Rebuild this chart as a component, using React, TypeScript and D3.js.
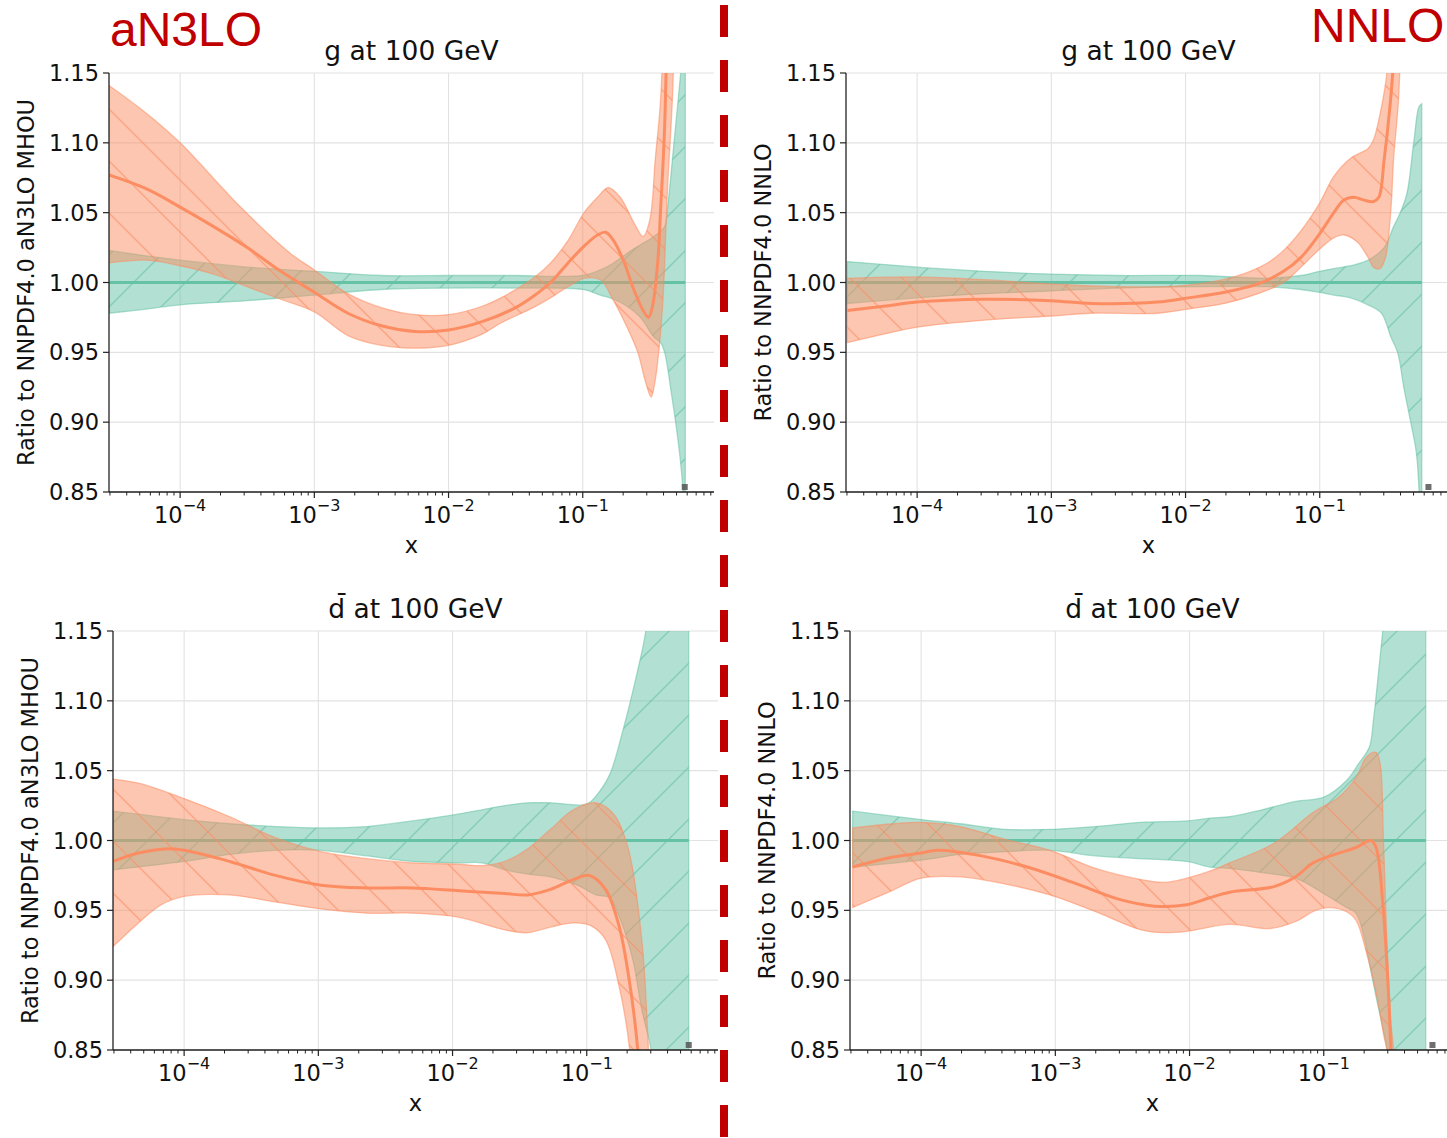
import React from 'react';
import * as d3 from 'd3';

type Pt = [number, number]; // [log10(x), ratio]

// ---------- gluon, aN3LO comparison (reference = NNPDF4.0 aN3LO MHOU) ----------
const gAn3loRefHi: Pt[] = [[-4.53,1.023],[-4.25,1.019],[-4.0,1.016],[-3.5,1.011],[-3.0,1.008],[-2.5,1.005],[-2.0,1.005],[-1.5,1.005],[-1.0,1.005],[-0.87,1.009],[-0.77,1.014],[-0.67,1.021],[-0.57,1.027],[-0.47,1.033],[-0.39,1.040],[-0.37,1.052],[-0.32,1.100],[-0.28,1.140],[-0.255,1.170],[-0.236,1.300]];
const gAn3loRefLo: Pt[] = [[-4.53,0.978],[-4.25,0.981],[-4.0,0.984],[-3.5,0.987],[-3.0,0.991],[-2.5,0.995],[-2.0,0.996],[-1.5,0.996],[-1.0,0.995],[-0.87,0.991],[-0.77,0.988],[-0.67,0.983],[-0.57,0.975],[-0.47,0.961],[-0.42,0.957],[-0.39,0.950],[-0.34,0.921],[-0.29,0.887],[-0.256,0.855],[-0.236,0.800]];
const gAn3loRefMid: Pt[] = [[-4.53,1.0],[-0.236,1.0]];
const gAn3loMid: Pt[] = [[-4.53,1.077],[-4.25,1.067],[-4.0,1.054],[-3.75,1.040],[-3.5,1.025],[-3.25,1.008],[-3.0,0.993],[-2.75,0.978],[-2.5,0.969],[-2.25,0.965],[-2.0,0.966],[-1.75,0.972],[-1.5,0.982],[-1.37,0.990],[-1.24,1.000],[-1.11,1.014],[-0.99,1.026],[-0.89,1.034],[-0.83,1.036],[-0.77,1.030],[-0.69,1.014],[-0.62,0.995],[-0.55,0.980],[-0.51,0.975],[-0.48,0.983],[-0.44,1.016],[-0.42,1.052],[-0.39,1.111],[-0.37,1.200]];
const gAn3loHi: Pt[] = [[-4.53,1.141],[-4.25,1.121],[-4.0,1.100],[-3.55,1.054],[-3.18,1.021],[-3.0,1.009],[-2.75,0.992],[-2.5,0.982],[-2.25,0.977],[-2.0,0.977],[-1.75,0.983],[-1.61,0.989],[-1.37,1.003],[-1.24,1.014],[-1.11,1.030],[-0.99,1.050],[-0.89,1.061],[-0.81,1.068],[-0.72,1.061],[-0.62,1.043],[-0.55,1.033],[-0.50,1.045],[-0.46,1.088],[-0.42,1.131],[-0.38,1.250]];
const gAn3loLo: Pt[] = [[-4.53,1.014],[-4.25,1.016],[-4.0,1.012],[-3.75,1.006],[-3.5,0.997],[-3.25,0.988],[-3.0,0.979],[-2.75,0.962],[-2.5,0.955],[-2.25,0.953],[-2.0,0.955],[-1.75,0.963],[-1.61,0.971],[-1.37,0.982],[-1.24,0.989],[-1.11,0.997],[-0.99,1.003],[-0.87,1.002],[-0.77,0.987],[-0.67,0.968],[-0.59,0.950],[-0.53,0.928],[-0.49,0.918],[-0.46,0.930],[-0.43,0.954],[-0.40,0.992],[-0.37,1.064],[-0.33,1.136],[-0.30,1.250]];

// ---------- gluon, NNLO comparison (reference = NNPDF4.0 NNLO) ----------
const gNnloRefHi: Pt[] = [[-4.52,1.015],[-4.0,1.011],[-3.5,1.008],[-3.0,1.006],[-2.5,1.005],[-1.885,1.005],[-1.39,1.003],[-1.14,1.005],[-1.0,1.008],[-0.895,1.010],[-0.77,1.012],[-0.64,1.016],[-0.52,1.025],[-0.45,1.040],[-0.40,1.050],[-0.35,1.064],[-0.30,1.100],[-0.26,1.126],[-0.24,1.128]];
const gNnloRefLo: Pt[] = [[-4.52,0.985],[-4.0,0.989],[-3.5,0.992],[-3.0,0.994],[-2.5,0.996],[-1.885,0.997],[-1.39,0.997],[-1.14,0.995],[-1.0,0.993],[-0.895,0.991],[-0.77,0.989],[-0.64,0.984],[-0.54,0.978],[-0.47,0.961],[-0.42,0.950],[-0.37,0.923],[-0.32,0.899],[-0.28,0.878],[-0.26,0.851],[-0.24,0.800]];
const gNnloRefMid: Pt[] = [[-4.52,1.0],[-0.24,1.0]];
const gNnloMid: Pt[] = [[-4.52,0.980],[-4.25,0.983],[-4.0,0.986],[-3.5,0.988],[-3.0,0.987],[-2.7,0.985],[-2.21,0.986],[-1.98,0.989],[-1.71,0.993],[-1.46,0.999],[-1.27,1.008],[-1.14,1.018],[-1.0,1.035],[-0.895,1.050],[-0.82,1.059],[-0.745,1.061],[-0.67,1.059],[-0.60,1.058],[-0.56,1.061],[-0.52,1.088],[-0.48,1.123],[-0.45,1.160],[-0.43,1.250]];
const gNnloHi: Pt[] = [[-4.52,1.003],[-4.0,1.004],[-3.5,1.002],[-3.0,0.999],[-2.5,0.997],[-2.0,0.998],[-1.64,1.004],[-1.39,1.014],[-1.27,1.023],[-1.14,1.037],[-1.0,1.057],[-0.895,1.076],[-0.77,1.089],[-0.64,1.096],[-0.60,1.102],[-0.55,1.121],[-0.50,1.150],[-0.45,1.250]];
const gNnloLo: Pt[] = [[-4.52,0.957],[-4.25,0.963],[-4.0,0.968],[-3.5,0.973],[-3.0,0.976],[-2.7,0.978],[-2.21,0.978],[-1.98,0.981],[-1.71,0.985],[-1.46,0.992],[-1.27,1.000],[-1.14,1.011],[-1.0,1.024],[-0.895,1.032],[-0.82,1.034],[-0.72,1.029],[-0.64,1.018],[-0.60,1.011],[-0.55,1.010],[-0.51,1.018],[-0.47,1.052],[-0.45,1.088],[-0.41,1.136],[-0.39,1.250]];

// ---------- dbar, aN3LO comparison ----------
const dbAn3loRefHi: Pt[] = [[-4.53,1.021],[-4.0,1.015],[-3.66,1.012],[-3.32,1.010],[-2.98,1.009],[-2.64,1.010],[-2.30,1.014],[-1.95,1.019],[-1.78,1.022],[-1.61,1.025],[-1.44,1.027],[-1.27,1.027],[-1.0,1.026],[-0.93,1.032],[-0.83,1.047],[-0.73,1.079],[-0.62,1.122],[-0.56,1.150],[-0.45,1.250],[-0.24,1.300]];
const dbAn3loRefLo: Pt[] = [[-4.53,0.979],[-4.0,0.985],[-3.66,0.990],[-3.32,0.993],[-2.98,0.993],[-2.64,0.989],[-2.30,0.985],[-1.95,0.984],[-1.78,0.984],[-1.61,0.979],[-1.44,0.976],[-1.27,0.974],[-1.07,0.968],[-0.93,0.961],[-0.83,0.959],[-0.76,0.946],[-0.66,0.916],[-0.59,0.879],[-0.52,0.850],[-0.45,0.800],[-0.24,0.780]];
const dbAn3loRefMid: Pt[] = [[-4.53,1.0],[-0.24,1.0]];
const dbAn3loMid: Pt[] = [[-4.53,0.985],[-4.34,0.991],[-4.14,0.994],[-4.0,0.993],[-3.66,0.985],[-3.32,0.975],[-2.98,0.968],[-2.64,0.966],[-2.30,0.966],[-1.95,0.964],[-1.61,0.962],[-1.44,0.961],[-1.27,0.965],[-1.10,0.972],[-0.98,0.975],[-0.86,0.965],[-0.76,0.939],[-0.69,0.904],[-0.62,0.850],[-0.57,0.750]];
const dbAn3loHi: Pt[] = [[-4.53,1.044],[-4.34,1.041],[-4.0,1.030],[-3.66,1.017],[-3.32,1.002],[-2.98,0.992],[-2.64,0.987],[-2.30,0.984],[-1.95,0.983],[-1.78,0.982],[-1.61,0.985],[-1.44,0.994],[-1.27,1.008],[-1.10,1.022],[-0.93,1.027],[-0.80,1.019],[-0.69,0.994],[-0.59,0.929],[-0.54,0.850],[-0.50,0.750]];
const dbAn3loLo: Pt[] = [[-4.53,0.924],[-4.34,0.941],[-4.17,0.954],[-4.0,0.960],[-3.66,0.961],[-3.32,0.956],[-2.98,0.951],[-2.64,0.948],[-2.30,0.948],[-1.95,0.945],[-1.61,0.936],[-1.44,0.934],[-1.27,0.938],[-1.10,0.941],[-0.97,0.939],[-0.86,0.929],[-0.76,0.896],[-0.68,0.850],[-0.62,0.750]];

// ---------- dbar, NNLO comparison ----------
const dbNnloRefHi: Pt[] = [[-4.51,1.021],[-4.0,1.015],[-3.71,1.012],[-3.38,1.008],[-3.04,1.008],[-2.70,1.010],[-2.36,1.013],[-2.02,1.014],[-1.85,1.016],[-1.70,1.017],[-1.46,1.022],[-1.21,1.028],[-1.0,1.031],[-0.83,1.043],[-0.74,1.055],[-0.66,1.067],[-0.63,1.086],[-0.59,1.122],[-0.55,1.160],[-0.45,1.250],[-0.24,1.300]];
const dbNnloRefLo: Pt[] = [[-4.51,0.981],[-4.0,0.986],[-3.71,0.990],[-3.38,0.992],[-3.04,0.993],[-2.70,0.989],[-2.36,0.987],[-2.02,0.985],[-1.85,0.981],[-1.70,0.980],[-1.46,0.977],[-1.21,0.973],[-1.0,0.962],[-0.83,0.952],[-0.76,0.948],[-0.70,0.931],[-0.66,0.912],[-0.61,0.888],[-0.56,0.866],[-0.53,0.851],[-0.45,0.780],[-0.24,0.760]];
const dbNnloRefMid: Pt[] = [[-4.51,1.0],[-0.24,1.0]];
const dbNnloMid: Pt[] = [[-4.51,0.981],[-4.22,0.988],[-4.0,0.991],[-3.88,0.993],[-3.55,0.989],[-3.21,0.981],[-2.87,0.970],[-2.53,0.958],[-2.26,0.953],[-2.02,0.954],[-1.85,0.959],[-1.70,0.963],[-1.37,0.967],[-1.21,0.974],[-1.08,0.984],[-0.92,0.990],[-0.76,0.995],[-0.65,1.000],[-0.61,0.995],[-0.56,0.955],[-0.52,0.895],[-0.50,0.850],[-0.47,0.750]];
const dbNnloHi: Pt[] = [[-4.51,1.009],[-4.2,1.012],[-4.0,1.013],[-3.71,1.010],[-3.38,1.001],[-3.04,0.993],[-2.70,0.980],[-2.36,0.972],[-2.19,0.970],[-2.02,0.973],[-1.85,0.978],[-1.70,0.984],[-1.37,0.998],[-1.08,1.020],[-0.89,1.031],[-0.76,1.045],[-0.68,1.060],[-0.61,1.063],[-0.58,1.055],[-0.555,1.000],[-0.53,0.930],[-0.50,0.870],[-0.48,0.850],[-0.46,0.750]];
const dbNnloLo: Pt[] = [[-4.51,0.952],[-4.22,0.964],[-4.0,0.973],[-3.71,0.974],[-3.38,0.969],[-3.04,0.961],[-2.70,0.949],[-2.36,0.936],[-2.19,0.934],[-2.02,0.935],[-1.70,0.940],[-1.40,0.937],[-1.21,0.942],[-1.06,0.950],[-0.96,0.952],[-0.83,0.949],[-0.76,0.943],[-0.68,0.919],[-0.61,0.891],[-0.55,0.859],[-0.53,0.850],[-0.50,0.750]];

// axis ticks
const yTicks = [0.85, 0.9, 0.95, 1.0, 1.05, 1.1, 1.15];
const xMajorExp = [-4, -3, -2, -1];
const xLogDomain: [number, number] = [-4.53, -0.022];

const GREEN = '#66c2a5';
const ORANGE = '#fc8d62';
const RED = '#c00000';
const FONT = '"DejaVu Sans", Verdana, sans-serif';
const LABEL_SIZE = 22.5;

const PLOT_W = 605;
const PLOT_H = 419;

interface Band { hi: Pt[]; lo: Pt[]; mid: Pt[] }
interface PanelSpec {
  id: string;
  left: number;
  top: number;
  title: string;
  ylabel: string;
  ref: Band;
  alt: Band;
  markLogX: number;
}

const panels: PanelSpec[] = [
  { id: 'gA', left: 109, top: 73, title: 'g at 100 GeV', ylabel: 'Ratio to NNPDF4.0 aN3LO MHOU',
    ref: { hi: gAn3loRefHi, lo: gAn3loRefLo, mid: gAn3loRefMid }, alt: { hi: gAn3loHi, lo: gAn3loLo, mid: gAn3loMid }, markLogX: -0.24 },
  { id: 'gN', left: 846, top: 73, title: 'g at 100 GeV', ylabel: 'Ratio to NNPDF4.0 NNLO',
    ref: { hi: gNnloRefHi, lo: gNnloRefLo, mid: gNnloRefMid }, alt: { hi: gNnloHi, lo: gNnloLo, mid: gNnloMid }, markLogX: -0.19 },
  { id: 'dA', left: 113, top: 631, title: 'd\u0304 at 100 GeV', ylabel: 'Ratio to NNPDF4.0 aN3LO MHOU',
    ref: { hi: dbAn3loRefHi, lo: dbAn3loRefLo, mid: dbAn3loRefMid }, alt: { hi: dbAn3loHi, lo: dbAn3loLo, mid: dbAn3loMid }, markLogX: -0.24 },
  { id: 'dN', left: 850, top: 631, title: 'd\u0304 at 100 GeV', ylabel: 'Ratio to NNPDF4.0 NNLO',
    ref: { hi: dbNnloRefHi, lo: dbNnloRefLo, mid: dbNnloRefMid }, alt: { hi: dbNnloHi, lo: dbNnloLo, mid: dbNnloMid }, markLogX: -0.19 },
];

function Panel({ p }: { p: PanelSpec }) {
  const x = d3.scaleLog().domain([10 ** xLogDomain[0], 10 ** xLogDomain[1]]).range([p.left, p.left + PLOT_W]);
  const y = d3.scaleLinear().domain([0.85, 1.15]).range([p.top + PLOT_H, p.top]);
  const line = d3.line<Pt>().x(d => x(10 ** d[0])).y(d => y(d[1])).curve(d3.curveCatmullRom.alpha(0.5));
  const bandPath = (b: Band) => {
    const a = line(b.hi) as string;
    const r = line([...b.lo].reverse()) as string;
    return a + 'L' + r.slice(1) + 'Z';
  };
  const bottom = p.top + PLOT_H;
  const right = p.left + PLOT_W;
  const minor: number[] = [];
  for (let k = -5; k <= 0; k++) for (let m = 2; m <= 9; m++) {
    const v = m * 10 ** k;
    if (v >= 10 ** xLogDomain[0] && v <= 10 ** xLogDomain[1]) minor.push(v);
  }
  const clipId = `clip-${p.id}`;
  const bands: [Band, string, string][] = [[p.ref, GREEN, 'hatchNE-g'], [p.alt, ORANGE, 'hatchNW-o']];
  return (
    <g>
      <defs>
        <clipPath id={clipId}>
          <rect x={p.left} y={p.top} width={PLOT_W} height={PLOT_H} />
        </clipPath>
      </defs>
      {/* grid */}
      {yTicks.map(t => (
        <line key={'gy' + t} x1={p.left} x2={right} y1={y(t)} y2={y(t)} stroke="#e2e2e2" strokeWidth={1.1} />
      ))}
      {xMajorExp.map(e => (
        <line key={'gx' + e} x1={x(10 ** e)} x2={x(10 ** e)} y1={p.top} y2={bottom} stroke="#e2e2e2" strokeWidth={1.1} />
      ))}
      {/* bands and central values */}
      <g clipPath={`url(#${clipId})`}>
        {bands.map(([b, col, hatch], i) => (
          <g key={i}>
            <path d={bandPath(b)} fill={col} fillOpacity={0.5} stroke={col} strokeOpacity={0.55} strokeWidth={1.3} />
            <path d={bandPath(b)} fill={`url(#${hatch})`} stroke="none" />
            <path d={line(b.mid) as string} fill="none" stroke={col} strokeWidth={3} />
          </g>
        ))}
      </g>
      <rect x={x(10 ** p.markLogX) - 3} y={bottom - 8} width={6} height={6} fill="#555" fillOpacity={0.85} />
      {/* spines */}
      <line x1={p.left} x2={p.left} y1={p.top} y2={bottom} stroke="#222" strokeWidth={1.3} />
      <line x1={p.left} x2={right} y1={bottom} y2={bottom} stroke="#222" strokeWidth={1.3} />
      {/* y ticks */}
      {yTicks.map(t => (
        <g key={'ty' + t}>
          <line x1={p.left - 6} x2={p.left} y1={y(t)} y2={y(t)} stroke="#222" strokeWidth={1.2} />
          <text x={p.left - 10} y={y(t)} dy="0.36em" textAnchor="end" fontSize={LABEL_SIZE} fontFamily={FONT} fill="#111">
            {t.toFixed(2)}
          </text>
        </g>
      ))}
      {/* x ticks */}
      {minor.map(v => (
        <line key={'mx' + v} x1={x(v)} x2={x(v)} y1={bottom} y2={bottom + 3.5} stroke="#222" strokeWidth={1} />
      ))}
      {xMajorExp.map(e => (
        <g key={'tx' + e}>
          <line x1={x(10 ** e)} x2={x(10 ** e)} y1={bottom} y2={bottom + 6} stroke="#222" strokeWidth={1.2} />
          <text x={x(10 ** e)} y={bottom + 31} textAnchor="middle" fontFamily={FONT} fill="#111" fontSize={LABEL_SIZE}>
            10<tspan fontSize={16} dy={-12}>{'\u2212' + Math.abs(e)}</tspan>
          </text>
        </g>
      ))}
      {/* labels */}
      <text x={(p.left + right) / 2} y={bottom + 61} textAnchor="middle" fontSize={LABEL_SIZE} fontFamily={FONT} fill="#111">x</text>
      <text x={(p.left + right) / 2} y={p.top - 13} textAnchor="middle" fontSize={26.5} fontFamily={FONT} fill="#111">{p.title}</text>
      <text transform={`translate(${p.left - 75},${p.top + PLOT_H / 2}) rotate(-90)`} textAnchor="middle" fontSize={LABEL_SIZE} fontFamily={FONT} fill="#111">
        {p.ylabel}
      </text>
    </g>
  );
}

function HatchPattern({ id, color, dir }: { id: string; color: string; dir: 'ne' | 'nw' }) {
  const s = 52;
  const segs = dir === 'ne'
    ? [[0, s, s, 0], [-6, 6, 6, -6], [s - 6, s + 6, s + 6, s - 6]]
    : [[0, 0, s, s], [-6, s - 6, 6, s + 6], [s - 6, -6, s + 6, 6]];
  return (
    <pattern id={id} patternUnits="userSpaceOnUse" width={s} height={s}>
      {segs.map((q, i) => (
        <line key={i} x1={q[0]} y1={q[1]} x2={q[2]} y2={q[3]} stroke={color} strokeOpacity={0.6} strokeWidth={1.4} />
      ))}
    </pattern>
  );
}

export default function App() {
  return (
    <svg width={1447} height={1138} style={{ position: 'absolute', left: 0, top: 0, background: '#fff' }}>
      <defs>
        <HatchPattern id="hatchNE-g" color={GREEN} dir="ne" />
        <HatchPattern id="hatchNW-o" color={ORANGE} dir="nw" />
      </defs>
      <rect x={0} y={0} width={1447} height={1138} fill="#fff" />
      {panels.map(p => <Panel key={p.id} p={p} />)}
      <line x1={724} x2={724} y1={0} y2={1138} stroke={RED} strokeWidth={8} strokeDasharray="32 23" strokeDashoffset={50} />
      <text x={110} y={46} fontSize={48} fontFamily='"Liberation Sans", Arial, sans-serif' fill={RED}>aN3LO</text>
      <text x={1311} y={42} fontSize={48} fontFamily='"Liberation Sans", Arial, sans-serif' fill={RED}>NNLO</text>
    </svg>
  );
}
